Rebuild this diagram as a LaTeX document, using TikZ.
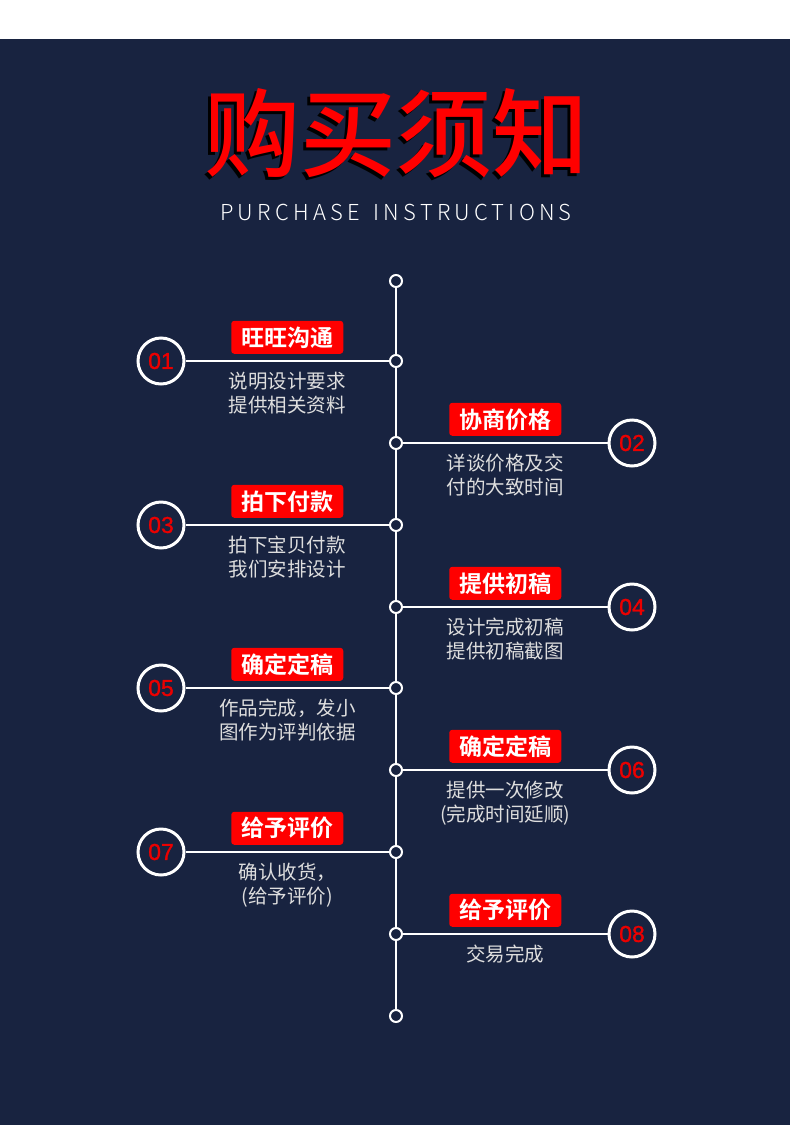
\documentclass[tikz,border=0pt]{standalone}
\usepackage{fontspec}
\newfontfamily\cjk[BoldFont={Noto Sans CJK SC Bold}]{Noto Sans CJK SC}
\newfontfamily\titlefont{Noto Sans CJK SC Medium}
\newfontfamily\numfont[FakeBold=1.2]{Liberation Sans}
\newfontfamily\subfont[LetterSpace=19]{Noto Sans CJK SC Light}
\definecolor{navy}{RGB}{24,35,64}
\definecolor{tagred}{RGB}{255,0,0}
\definecolor{numred}{RGB}{235,0,0}
\definecolor{desctext}{RGB}{222,222,222}
\usetikzlibrary{calc,positioning}
\tikzset{
	titletext/.style={
		text=tagred, inner sep=0pt,
		font=\titlefont\fontsize{96}{96}\selectfont
	},
	subtitle/.style={
		text=white, inner sep=0pt,
		font=\subfont\fontsize{22}{22}\selectfont
	},
	stepdot/.style={
		draw=white, circle, line width=2pt, fill=navy,
		minimum size=12pt, inner sep=0pt
	},
	numcircle/.style={
		draw=white, circle, line width=3pt, fill=navy,
		minimum size=46pt, inner sep=0pt, text=numred,
		font=\numfont\fontsize{23}{23}\selectfont
	},
	tagbox/.style={
		rectangle, rounded corners=3pt, fill=tagred,
		minimum width=112pt, minimum height=33pt, inner sep=0pt,
		text=white, font=\cjk\bfseries\fontsize{23}{23}\selectfont
	},
	desc/.style={
		align=center, text=desctext, inner sep=0pt,
		font=\cjk\fontsize{19.5}{23.5}\selectfont
	},
	link/.style={white, line width=2pt}
}
\begin{document}
\begin{tikzpicture}[x=1pt, y=-1pt]
	\useasboundingbox (0,0) rectangle (790,1125);
	\fill[white] (0,0) rectangle (790,39);
	\fill[navy] (0,39) rectangle (790,1125);
	\coordinate (titlepos) at (396,133);
	\node[titletext, text=black] (titleshade) at ([shift={(-3,3)}]titlepos) {购买须知};
	\node[titletext] (title) at (titlepos) {购买须知};
	\node[subtitle] (subtitle) at (396,212) {PURCHASE\hspace{5pt} INSTRUCTIONS};

	\node[stepdot] (top) at (396,281) {};
	\node[stepdot] (d1) at (396,361) {};
	\node[stepdot] (d2) at (396,443) {};
	\node[stepdot] (d3) at (396,525) {};
	\node[stepdot] (d4) at (396,607) {};
	\node[stepdot] (d5) at (396,688) {};
	\node[stepdot] (d6) at (396,770) {};
	\node[stepdot] (d7) at (396,852) {};
	\node[stepdot] (d8) at (396,934) {};
	\node[stepdot] (bottom) at (396,1016) {};
	\draw[link] (top) -- (d1) -- (d2) -- (d3) -- (d4) -- (d5) -- (d6) -- (d7) -- (d8) -- (bottom);

	\node[numcircle] (n1) at (161,361) {01};
	\draw[link] (n1) -- (d1);
	\coordinate (m1) at ($(n1.east)!0.5!(d1.west)$);
	\node[tagbox, above=7pt of m1] (t1) {旺旺沟通};
	\node[desc, below=11pt of m1] (s1) {说明设计要求\\提供相关资料};

	\node[numcircle] (n2) at (632,443) {02};
	\draw[link] (d2) -- (n2);
	\coordinate (m2) at ($(d2.east)!0.5!(n2.west)$);
	\node[tagbox, above=7pt of m2] (t2) {协商价格};
	\node[desc, below=11pt of m2] (s2) {详谈价格及交\\付的大致时间};

	\node[numcircle] (n3) at (161,525) {03};
	\draw[link] (n3) -- (d3);
	\coordinate (m3) at ($(n3.east)!0.5!(d3.west)$);
	\node[tagbox, above=7pt of m3] (t3) {拍下付款};
	\node[desc, below=11pt of m3] (s3) {拍下宝贝付款\\我们安排设计};

	\node[numcircle] (n4) at (632,607) {04};
	\draw[link] (d4) -- (n4);
	\coordinate (m4) at ($(d4.east)!0.5!(n4.west)$);
	\node[tagbox, above=7pt of m4] (t4) {提供初稿};
	\node[desc, below=11pt of m4] (s4) {设计完成初稿\\提供初稿截图};

	\node[numcircle] (n5) at (161,688) {05};
	\draw[link] (n5) -- (d5);
	\coordinate (m5) at ($(n5.east)!0.5!(d5.west)$);
	\node[tagbox, above=7pt of m5] (t5) {确定定稿};
	\node[desc, below=11pt of m5] (s5) {作品完成，发小\\图作为评判依据};

	\node[numcircle] (n6) at (632,770) {06};
	\draw[link] (d6) -- (n6);
	\coordinate (m6) at ($(d6.east)!0.5!(n6.west)$);
	\node[tagbox, above=7pt of m6] (t6) {确定定稿};
	\node[desc, below=11pt of m6] (s6) {提供一次修改\\(完成时间延顺)};

	\node[numcircle] (n7) at (161,852) {07};
	\draw[link] (n7) -- (d7);
	\coordinate (m7) at ($(n7.east)!0.5!(d7.west)$);
	\node[tagbox, above=7pt of m7] (t7) {给予评价};
	\node[desc, below=11pt of m7] (s7) {确认收货，\\(给予评价)};

	\node[numcircle] (n8) at (632,934) {08};
	\draw[link] (d8) -- (n8);
	\coordinate (m8) at ($(d8.east)!0.5!(n8.west)$);
	\node[tagbox, above=7pt of m8] (t8) {给予评价};
	\node[desc, below=11pt of m8] (s8) {交易完成};
\end{tikzpicture}
\end{document}
